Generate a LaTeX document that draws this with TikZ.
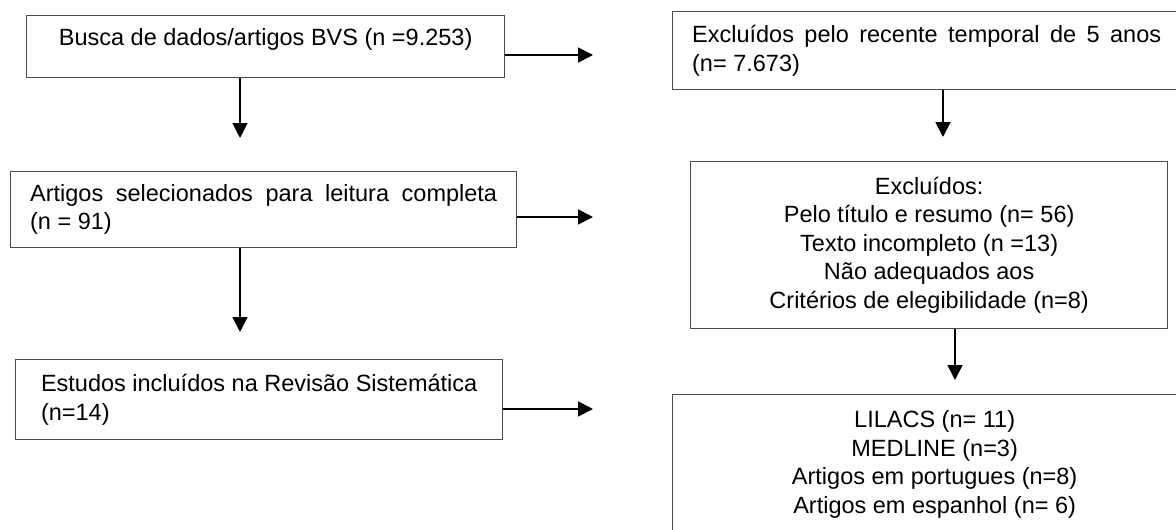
\documentclass[tikz,border=0pt]{standalone}
\usepackage{fontspec}
\setmainfont{Liberation Sans}
\usetikzlibrary{arrows.meta}

\begin{document}
\begin{tikzpicture}[x=1pt, y=-1pt, every node/.style={draw=black!70, line width=1.3pt, rectangle, anchor=north west, inner sep=0pt, font=\fontsize{23.5}{28.5}\selectfont}, seta/.style={line width=1.8pt, -{Triangle[length=15pt, width=15pt]}}]
        \useasboundingbox (0,0) rectangle (1176,530);

        \node[minimum width=478pt, minimum height=62pt, text depth=20pt] (E1) at (26,15) {Busca de dados/artigos BVS (n =9.253)};
        \node[minimum width=506pt, minimum height=76pt, text width=467pt, align=justify] (E2) at (10,171) {Artigos selecionados para leitura completa\linebreak (n = 91)};
        \node[minimum width=487pt, minimum height=80pt, align=left] (E3) at (15,359) {Estudos incluídos na Revisão Sistemática\\(n=14)};
        \node[minimum width=508pt, minimum height=78pt, text width=469pt, align=justify] (D1) at (672,11) {Excluídos pelo recente temporal de 5 anos\linebreak (n= 7.673)};
        \node[minimum width=477pt, minimum height=167pt, align=center] (D2) at (690,161) {Excluídos:\\Pelo título e resumo (n= 56)\\Texto incompleto (n =13)\\Não adequados aos\\Critérios de elegibilidade (n=8)};
        \node[minimum width=524pt, minimum height=140pt, align=center] (D3) at (672,394) {LILACS (n= 11)\\MEDLINE (n=3)\\Artigos em portugues (n=8)\\Artigos em espanhol (n= 6)};

        \coordinate (p1) at (240,138);
        \coordinate (p2) at (240,332);
        \coordinate (p3) at (943,137);
        \coordinate (p4) at (955,380);
        \coordinate (h1) at (593,55);
        \coordinate (h2) at (593,217);
        \coordinate (h3) at (593,409);

        \draw[seta] (E1.south -| p1) -- (p1);
        \draw[seta] (E2.south -| p2) -- (p2);
        \draw[seta] (D1.south -| p3) -- (p3);
        \draw[seta] (D2.south -| p4) -- (p4);
        \draw[seta] (E1.east |- h1) -- (h1);
        \draw[seta] (E2.east |- h2) -- (h2);
        \draw[seta] (E3.east |- h3) -- (h3);
    \end{tikzpicture}
\end{document}
